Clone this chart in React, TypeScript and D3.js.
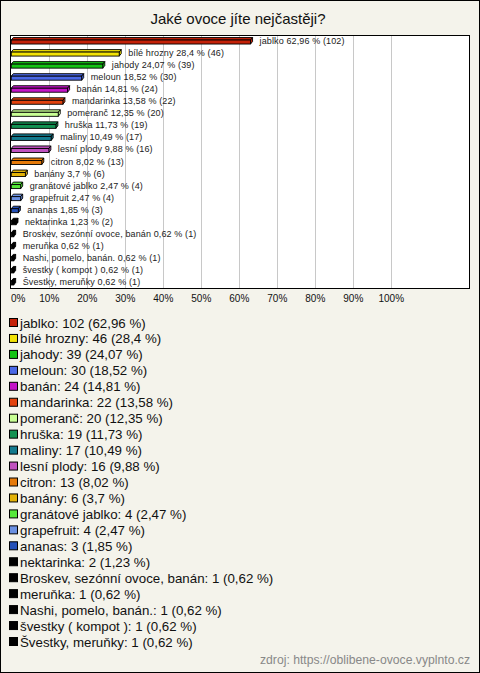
import React from "react";
import * as d3 from "d3";

const title = "Jaké ovoce jíte nejčastěji?";
const categories = [
  "jablko", "bílé hrozny", "jahody", "meloun", "banán", "mandarinka", "pomeranč",
  "hruška", "maliny", "lesní plody", "citron", "banány", "granátové jablko",
  "grapefruit", "ananas", "nektarinka", "Broskev, sezónní ovoce, banán", "meruňka",
  "Nashi, pomelo, banán.", "švestky ( kompot )", "Švestky, meruňky",
];
const counts = [102, 46, 39, 30, 24, 22, 20, 19, 17, 16, 13, 6, 4, 4, 3, 2, 1, 1, 1, 1, 1];
const percents = [62.96, 28.4, 24.07, 18.52, 14.81, 13.58, 12.35, 11.73, 10.49, 9.88, 8.02, 3.7, 2.47, 2.47, 1.85, 1.23, 0.62, 0.62, 0.62, 0.62, 0.62];
const colors = [
  "#c42108", "#f2e205", "#14c414", "#4a68e6", "#c414c8", "#e2420e", "#c8ff94",
  "#129252", "#137a8e", "#c052c0", "#e57a0a", "#e2b208", "#56e83a", "#6a90e2",
  "#2450b8", "#000000", "#000000", "#000000", "#000000", "#000000", "#000000",
];
const ticks = [0, 10, 20, 30, 40, 50, 60, 70, 80, 90, 100];
const source = "zdroj: https://oblibene-ovoce.vyplnto.cz";

const fmt = (v: number) => String(v).replace(".", ",");

export default function App() {
  const W = 480, H = 673;
  const plot = { left: 10, right: 470, top: 35, bottom: 288 };
  const x = d3.scaleLinear().domain([0, 100]).range([11.3, 391.3]);
  const y = d3.scaleBand<number>().domain(d3.range(categories.length)).range([plot.top, plot.bottom]);
  const font = "'Liberation Sans', Arial, sans-serif";
  const legendY = d3.scaleLinear().domain([0, categories.length - 1]).range([323, 642]);

  return (
    <svg width={W} height={H} style={{ position: "absolute", left: 0, top: 0, display: "block" }} fontFamily={font}>
      <rect x={0.5} y={0.5} width={W - 1} height={H - 1} fill="#f4f3eb" stroke="#000" />
      <text x={238} y={24} textAnchor="middle" fontSize={15} fill="#111">{title}</text>
      <rect x={plot.left + 0.5} y={plot.top + 0.5} width={plot.right - plot.left - 1} height={plot.bottom - plot.top} fill="#fff" />
      {ticks.slice(1).map((t) => (
        <line key={t} x1={Math.round(x(t)) + 0.5} x2={Math.round(x(t)) + 0.5} y1={plot.top} y2={plot.bottom} stroke="#c8c8c8" />
      ))}
      {categories.map((c, i) => {
        const cy = (y(i) as number) + y.bandwidth() / 2;
        const x0 = x(0);
        const x1 = Math.max(x(percents[i]), x0 + 1.5);
        const fy = cy - 1;
        const fh = 4;
        const d = 2;
        const col = colors[i];
        return (
          <g key={c}>
            <polygon points={`${x0},${fy} ${x0 + d},${fy - 2.5} ${x1 + d},${fy - 2.5} ${x1},${fy}`} fill={col} stroke="#000" strokeWidth={0.9} />
            <polygon points={`${x1},${fy} ${x1 + d},${fy - 2.5} ${x1 + d},${fy + fh - 2.5} ${x1},${fy + fh}`} fill={col} stroke="#000" strokeWidth={0.9} />
            <rect x={x0} y={fy} width={x1 - x0} height={fh} fill={col} stroke="#000" strokeWidth={0.9} />
            <text x={x1 + 9} y={cy + 3} fontSize={9} letterSpacing={0.12} fill="#222">{`${c} ${fmt(percents[i])} % (${counts[i]})`}</text>
          </g>
        );
      })}
      <rect x={plot.left + 0.5} y={plot.top + 0.5} width={plot.right - plot.left - 1} height={plot.bottom - plot.top} fill="none" stroke="#000" />
      {ticks.map((t) => (
        <text key={t} x={t === 0 ? 11 : x(t)} y={302} fontSize={10} textAnchor={t === 0 ? "start" : "middle"} fill="#111">{`${t}%`}</text>
      ))}
      {categories.map((c, i) => (
        <g key={"l" + c}>
          <rect x={9.5} y={legendY(i) - 4.5} width={8} height={8} fill={colors[i]} stroke="#000" />
          <text x={20} y={legendY(i) + 4.5} fontSize={13.3} fill="#111">{`${c}: ${counts[i]} (${fmt(percents[i])} %)`}</text>
        </g>
      ))}
      <text x={470} y={664} textAnchor="end" fontSize={12.2} fill="#888">{source}</text>
    </svg>
  );
}
